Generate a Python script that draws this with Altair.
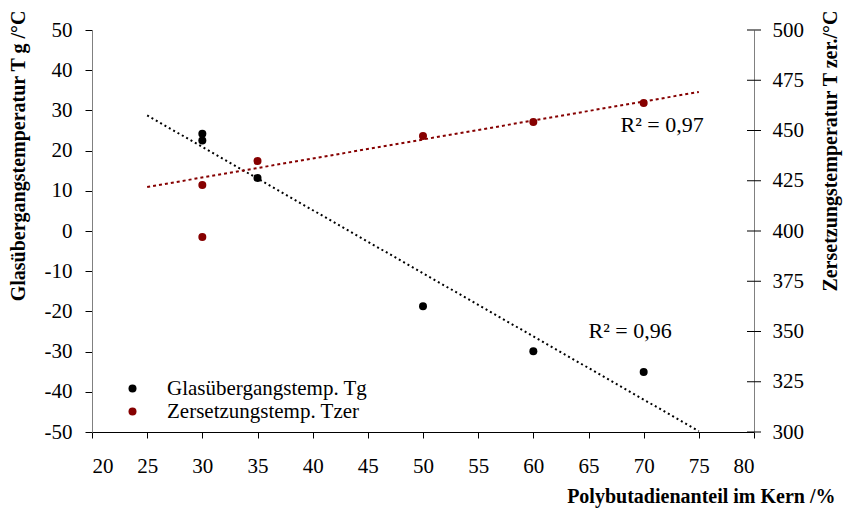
import altair as alt
import pandas as pd

# ---- data ----
x_tg = [30, 30, 35, 50, 60, 70]
tg_values = [24.2, 22.5, 13.2, -18.7, -29.9, -35.1]
x_tz = [30, 30, 35, 50, 60, 70]
tz_values = [422.9, 397.0, 434.8, 447.3, 454.2, 463.7]
tz_in_trend = [True, False, True, True, True, True]
series = ["Glasübergangstemp. Tg", "Zersetzungstemp. Tzer"]
colors = ["#000000", "#860000"]
x_ticks = list(range(20, 81, 5))
tg_ticks = list(range(-50, 51, 10))
tz_ticks = list(range(300, 501, 25))
trend_extent = [25, 75]
r2_tg_label = ["R² = 0,96"]
r2_tg_x = [65.0]
r2_tg_y = [-24.9]
r2_tz_label = ["R² = 0,97"]
r2_tz_x = [67.9]
r2_tz_y = [452.5]

FONT = "Liberation Serif"

tg_df = pd.DataFrame({"x": x_tg, "tg": tg_values, "series": series[0]})
tz_df = pd.DataFrame({"x": x_tz, "tz": tz_values, "series": series[1], "fit": tz_in_trend})
tz_tick_df = pd.DataFrame({"tz": tz_ticks})
tg_txt_df = pd.DataFrame({"x": r2_tg_x, "tg": r2_tg_y, "label": r2_tg_label})
tz_txt_df = pd.DataFrame({"x": r2_tz_x, "tz": r2_tz_y, "label": r2_tz_label})

x_scale = alt.Scale(domain=[20, 80], nice=False, zero=False)
x_axis = alt.Axis(
    values=x_ticks, title="Polybutadienanteil im Kern /%", grid=False,
    domainColor="#000000", tickColor="#000000", tickSize=6, labelPadding=17,
    titleAnchor="end", titleAlign="right", titleX=743, titleY=64,
    titleBaseline="middle", labelExpr="toString(datum.value)",
)
X = alt.X("x:Q", scale=x_scale, axis=x_axis)

tg_scale = alt.Scale(domain=[-50, 50], nice=False, zero=False)
tg_axis = alt.Axis(
    values=tg_ticks, title="Glasübergangstemperatur T g /°C", orient="left", grid=False,
    domainColor="#808080", tickColor="#000000", tickSize=7, labelPadding=13,
    titleAngle=270, titleAlign="right", titleX=-74, titleY=-20, titleBaseline="middle",
    labelExpr="toString(datum.value)",
)
tz_scale = alt.Scale(domain=[300, 500], nice=False, zero=False)
tz_axis = alt.Axis(
    values=tz_ticks, title="Zersetzungstemperatur T zer./°C", orient="right", grid=False,
    domainColor="#808080", ticks=False, labelPadding=18,
    titleAngle=270, titleAlign="right", titleX=76, titleY=-20, titleBaseline="middle",
    labelExpr="toString(datum.value)",
)
Ytg = alt.Y("tg:Q", scale=tg_scale, axis=tg_axis)
Ytz = alt.Y("tz:Q", scale=tz_scale, axis=tz_axis)

color = alt.Color(
    "series:N",
    scale=alt.Scale(domain=series, range=colors),
    legend=alt.Legend(
        title=None, orient="none", legendX=30, legendY=348,
        symbolType="circle", symbolSize=64, symbolStrokeWidth=0,
        labelFont=FONT, labelFontSize=21, labelOffset=24, rowPadding=1,
        labelColor="#000000", labelLimit=0,
    ),
)

tg_points = alt.Chart(tg_df).mark_circle(size=64, opacity=1).encode(x=X, y=Ytg, color=color)
tg_trend = (
    alt.Chart(tg_df)
    .transform_regression("x", "tg", extent=trend_extent)
    .mark_line(color="#000000", strokeWidth=2, strokeDash=[2, 3])
    .encode(x=X, y=Ytg)
)
tg_text = (
    alt.Chart(tg_txt_df)
    .mark_text(font=FONT, fontSize=22, align="left", baseline="middle", color="#000000")
    .encode(x=X, y=Ytg, text="label:N")
)
left = alt.layer(tg_trend, tg_points, tg_text)

tz_points = alt.Chart(tz_df).mark_circle(size=64, opacity=1).encode(x=X, y=Ytz, color=color)
tz_trend = (
    alt.Chart(tz_df)
    .transform_filter(alt.datum.fit)
    .transform_regression("x", "tz", extent=trend_extent)
    .mark_line(color="#860000", strokeWidth=2, strokeDash=[3, 3])
    .encode(x=X, y=Ytz)
)
tz_text = (
    alt.Chart(tz_txt_df)
    .mark_text(font=FONT, fontSize=22, align="left", baseline="middle", color="#000000")
    .encode(x=X, y=Ytz, text="label:N")
)
tz_axis_ticks = (
    alt.Chart(tz_tick_df)
    .mark_tick(orient="horizontal", size=14, thickness=1, color="#000000", opacity=1)
    .encode(x=alt.datum(80), y=Ytz)
)
right = alt.layer(tz_trend, tz_points, tz_text, tz_axis_ticks)

chart = (
    alt.layer(left, right)
    .resolve_scale(y="independent")
    .properties(
        width=662, height=402,
        autosize=alt.AutoSizeParams(type="none"),
        padding={"left": 92, "top": 30, "right": 89, "bottom": 80},
        background="#ffffff",
    )
    .configure_view(stroke=None)
    .configure_axis(
        labelFont=FONT, labelFontSize=21, labelColor="#000000",
        titleFont=FONT, titleFontSize=20, titleFontWeight="bold", titleColor="#000000",
    )
)

chart.save("out.html", embed_options={"renderer": "svg", "actions": False})
